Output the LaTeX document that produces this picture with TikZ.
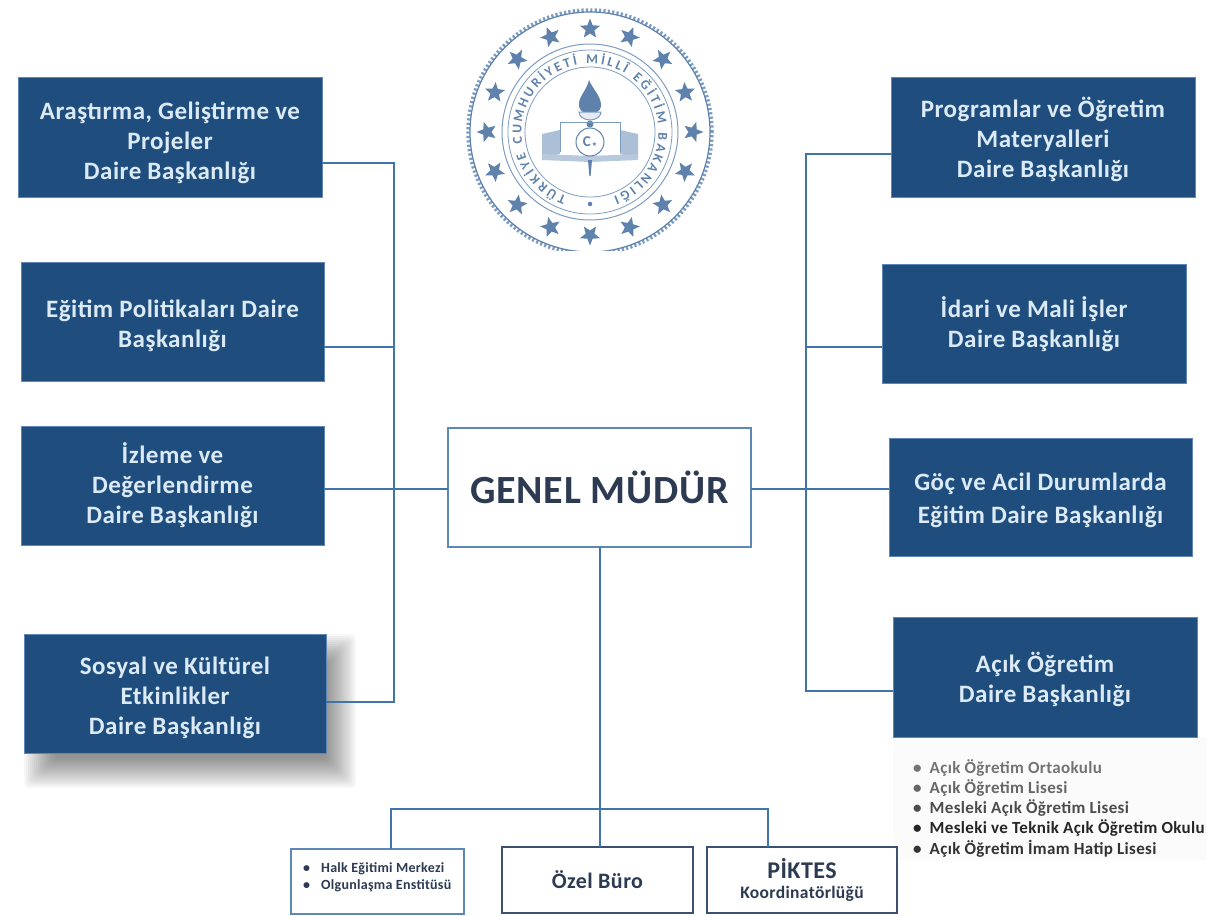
\documentclass[tikz,border=0pt]{standalone}
\usepackage{fontspec}
\setmainfont[LetterSpace=2]{Carlito}
\newfontfamily\symfont{DejaVu Sans}
\usetikzlibrary{shapes.geometric,decorations.text}
\definecolor{boxblue}{HTML}{1F4E7E}
\definecolor{boxtext}{HTML}{DCEAF6}
\definecolor{linkblue}{HTML}{3F75A8}
\definecolor{edgeblue}{HTML}{5F86B8}
\definecolor{inktext}{HTML}{2C3A52}
\definecolor{sealblue}{HTML}{7D9CC2}
\definecolor{sealdark}{HTML}{5F82AC}
\newcommand\tops[1]{\rule{0pt}{#1pt}}
\tikzset{
  dept/.style={rectangle,fill=boxblue,draw=edgeblue,line width=0.7pt,text=boxtext,align=center,outer sep=0pt,inner sep=2pt,
    font=\fontsize{25}{30}\selectfont\bfseries,minimum width=#1},
  dept/.default=304pt,
  whitebox/.style={rectangle,fill=white,draw=edgeblue,line width=2pt,text=inktext,align=center,outer sep=0pt,inner sep=2pt},
  link/.style={draw=linkblue,line width=2.8pt,line join=miter},
  listline/.style={anchor=west,inner sep=0pt,text=#1,font=\fontsize{17}{19}\selectfont\bfseries},
  listline/.default=inktext,
  smallline/.style={anchor=west,inner sep=0pt,text=inktext,font=\fontsize{14}{16}\selectfont\bfseries},
  sealstar/.style={star,star points=5,star point ratio=2.3,fill=sealdark,draw=none,minimum size=21pt,inner sep=0pt},
}
\begin{document}
\begin{tikzpicture}[x=1pt,y=-1pt]
\useasboundingbox (0,0) rectangle (1211,916);
\fill[white] (0,0) rectangle (1211,916);
% faint panel below Acik Ogretim
\fill[black!1.5] (893,737) rectangle (1207,860);
% shadow of the fourth left box
\foreach \d in {0,2,...,30}
  \fill[black,opacity=0.03,rounded corners=4pt] (54-\d,664-\d) rectangle (326+\d,758+\d);
% seal
\begin{scope}[shift={(590,132)},y=1pt]
  \begin{scope}
    \clip (-130,140) rectangle (130,-118);
    \draw[sealblue,line width=3.5pt,dash pattern=on 2.2pt off 2.2pt] (0,0) circle[radius=122];
    \draw[sealdark,line width=1.2pt] (0,0) circle[radius=120];
  \end{scope}
  \foreach \i in {0,...,15}{
    \pgfmathsetmacro{\ang}{90-22.5*\i}
    \node[sealstar,rotate=\ang-90] (star\i) at (\ang:103) {};
  }
  \draw[sealblue,line width=1pt] (0,0) circle[radius=88];
  \draw[sealblue,line width=.8pt] (0,0) circle[radius=82];
  \draw[sealblue,line width=.8pt] (0,0) circle[radius=65];
  \path[decorate,decoration={text along path,text align={fit to path},
    text={|\fontsize{13.5}{14}\selectfont\bfseries\color{sealdark}|TÜRKİYE CUMHURİYETİ MİLLÎ EĞİTİM BAKANLIĞI}}]
    (250:68.5) arc[start angle=250,end angle=-70,radius=68.5];
  \fill[sealdark] (0,-72) circle[radius=2.3];
  % flame and bowl
  \fill[sealdark] (-1,52) .. controls (2,44) and (11,36) .. (11,27) .. controls (11,23) and (9,21) .. (7,20)
     -- (-7,20) .. controls (-10,22) and (-11,24) .. (-11,28) .. controls (-11,36) and (-3,42) .. (-1,52) -- cycle;
  \draw[sealblue,line width=1pt,fill=sealblue!20] (-11,20) arc[start angle=180,end angle=360,x radius=11,y radius=8] -- cycle;
  \fill[sealdark] (0,8) circle[radius=3.5];
  % book
  \draw[sealblue,line width=1pt] (-30,10) -- (30,10);
  \fill[sealblue!65] (-48,-2) -- (-30,2) -- (-30,-22) -- (-48,-26) -- cycle;
  \fill[sealblue!65] (48,-2) -- (30,2) -- (30,-22) -- (48,-26) -- cycle;
  \fill[sealblue!55] (-48,-22) -- (0,-24) -- (48,-22) -- (48,-28) -- (0,-30) -- (-48,-28) -- cycle;
  \draw[sealblue,line width=1pt] (-30,10) -- (-30,-20);
  \draw[sealblue,line width=1pt] (30,10) -- (30,-20);
  \fill[sealdark] (-2,-28) -- (2,-28) -- (0.6,-44) -- (-0.6,-44) -- cycle;
  \draw[sealdark,line width=1pt,fill=white] (0,-10) circle[radius=14];
  \node[text=sealdark,font=\fontsize{15}{15}\selectfont\bfseries,inner sep=0pt] (sealc) at (0,-10) {C\hspace{1pt}{\symfont\fontsize{6}{6}\selectfont ★}};
\end{scope}
% connector anchors
\coordinate (ltop) at (394,163);
\coordinate (lmid) at (394,347);
\coordinate (lbot) at (394,702);
\coordinate (rtop) at (806,154);
\coordinate (rmid) at (806,347);
\coordinate (rbot) at (806,691);
\coordinate (axis) at (600,489);
\coordinate (hub) at (600,809);
\coordinate (hleft) at (391,809);
\coordinate (hright) at (768,809);
% boxes
\node[dept,minimum height=120pt] (L1) at (170,137) {\tops{29}Araştırma, Geliştirme ve\\Projeler\\Daire Başkanlığı};
\node[dept=303pt,minimum height=119pt] (L2) at (172.5,321.5) {\tops{27}Eğitim Politikaları Daire\\Başkanlığı};
\node[dept=303pt,minimum height=119pt] (L3) at (172.5,485.5) {\tops{21}İzleme ve\\Değerlendirme\\Daire Başkanlığı};
\node[dept=302pt,minimum height=119pt] (L4) at (175,693.5) {\tops{27}Sosyal ve Kültürel\\Etkinlikler\\Daire Başkanlığı};
\node[dept,minimum height=120pt] (R1) at (1043,137) {\tops{25}Programlar ve Öğretim\\Materyalleri\\Daire Başkanlığı};
\node[dept,minimum height=119pt] (R2) at (1034,323.5) {\tops{23}İdari ve Mali İşler\\Daire Başkanlığı};
\node[dept=303pt,minimum height=118pt] (R3) at (1040.5,497) {\tops{25}Göç ve Acil Durumlarda\\[3pt]Eğitim Daire Başkanlığı};
\node[dept,minimum height=120pt] (R4) at (1045,677) {\tops{25}Açık Öğretim\\Daire Başkanlığı};
\node[whitebox,minimum width=303pt,minimum height=119pt,font=\fontsize{40}{42}\selectfont\bfseries] (GM) at (599.5,487.5) {GENEL MÜDÜR};
\node[whitebox,minimum width=173pt,minimum height=65pt] (B1) at (377.5,881.5) {};
\node[whitebox,minimum width=191pt,minimum height=66pt,draw=inktext!70!edgeblue,font=\fontsize{22}{24}\selectfont\bfseries] (B2) at (597.5,880) {Özel Büro};
\node[whitebox,minimum width=190pt,minimum height=66pt,draw=inktext!70!edgeblue,font=\bfseries] (B3) at (802,880) {{\fontsize{24}{24}\selectfont PİKTES}\\[7pt]{\fontsize{17.5}{18}\selectfont Koordinatörlüğü}};
% connectors
\draw[link] (L1.east |- ltop) -- (ltop) -- (lbot) -- (L4.east |- lbot);
\draw[link,line width=1.8pt] (L2.east |- lmid) -- (lmid);
\draw[link] (L3.east |- axis) -- (GM.west |- axis);
\draw[link] (R1.west |- rtop) -- (rtop) -- (rbot) -- (R4.west |- rbot);
\draw[link,line width=1.8pt] (R2.west |- rmid) -- (rmid);
\draw[link] (GM.east |- axis) -- (R3.west |- axis);
\draw[link] (GM.south -| hub) -- (hub) -- (B2.north -| hub);
\draw[link] (B1.north -| hleft) -- (hleft) -- (hright) -- (B3.north -| hright);
% list in B1
\node[smallline] (h1) at (303,869) {•\hspace{11pt}Halk Eğitimi Merkezi};
\node[smallline] (h2) at (303,886) {•\hspace{11pt}Olgunlaşma Enstitüsü};
% list under R4
\node[listline=black!55] (a1) at (913,768) {•\hspace{8pt}Açık Öğretim Ortaokulu};
\node[listline=black!60] (a2) at (913,788) {•\hspace{8pt}Açık Öğretim Lisesi};
\node[listline=black!70] (a3) at (913,808) {•\hspace{8pt}Mesleki Açık Öğretim Lisesi};
\node[listline=black!85] (a4) at (913,828) {•\hspace{8pt}Mesleki ve Teknik Açık Öğretim Okulu};
\node[listline=black!80] (a5) at (913,849) {•\hspace{8pt}Açık Öğretim İmam Hatip Lisesi};
\end{tikzpicture}
\end{document}
